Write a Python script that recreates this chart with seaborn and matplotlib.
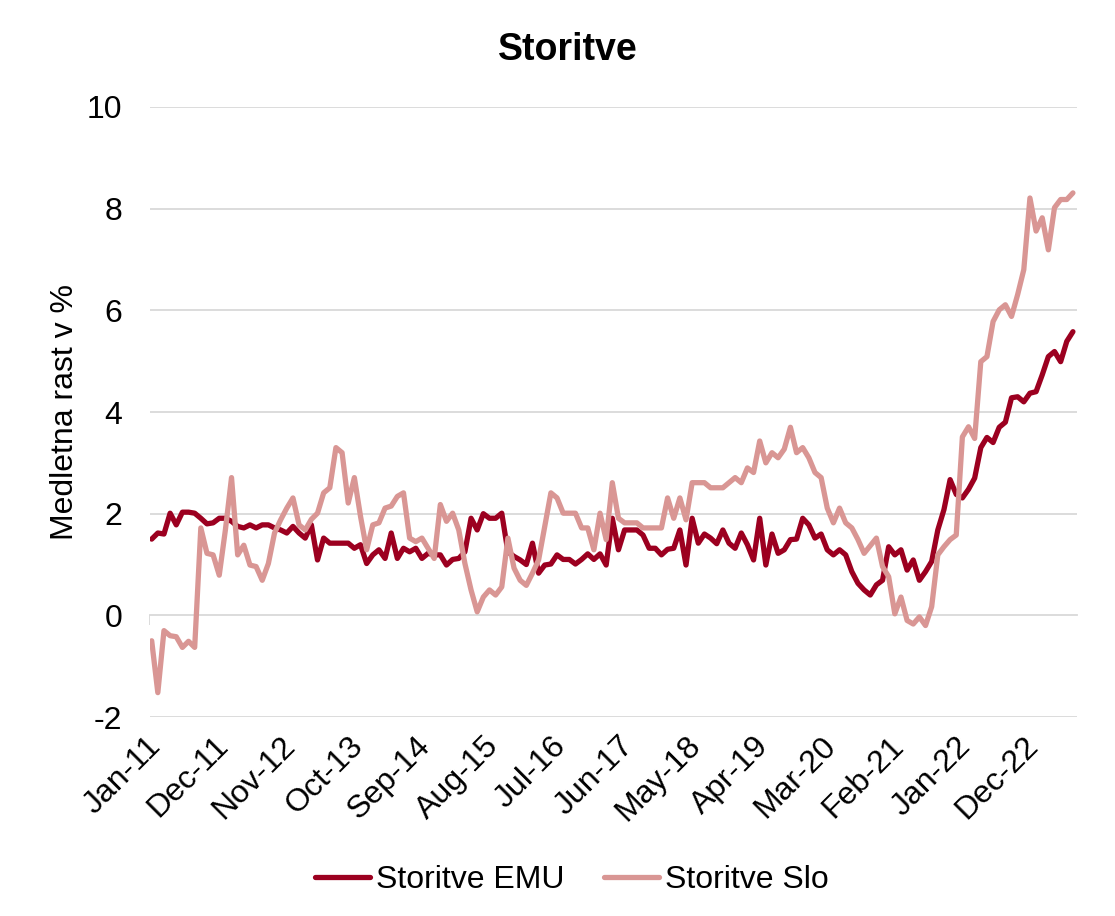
import numpy as np
import pandas as pd

import matplotlib
matplotlib.use("Agg")
import matplotlib.pyplot as plt
import matplotlib.transforms as mtransforms
import seaborn as sns


# monthly year-on-year growth, Jan-11 .. Jul-23
storitve_emu = [
    1.50, 1.62, 1.60, 2.01, 1.78, 2.03, 2.03, 2.01, 1.91, 1.80,
    1.82, 1.91, 1.91, 1.85, 1.75, 1.72, 1.78, 1.72, 1.78, 1.78,
    1.72, 1.68, 1.62, 1.75, 1.62, 1.52, 1.78, 1.09, 1.52, 1.42,
    1.42, 1.42, 1.42, 1.32, 1.39, 1.02, 1.19, 1.29, 1.12, 1.62,
    1.12, 1.32, 1.25, 1.32, 1.12, 1.22, 1.19, 1.19, 0.99, 1.10,
    1.12, 1.25, 1.91, 1.68, 2.00, 1.91, 1.91, 2.01, 1.25, 1.16,
    1.09, 1.00, 1.42, 0.83, 0.99, 1.01, 1.19, 1.10, 1.10, 1.01,
    1.10, 1.21, 1.10, 1.21, 0.99, 1.91, 1.29, 1.68, 1.68, 1.68,
    1.58, 1.32, 1.32, 1.19, 1.30, 1.32, 1.68, 0.99, 1.91, 1.42,
    1.60, 1.52, 1.41, 1.68, 1.42, 1.32, 1.62, 1.39, 1.09, 1.91,
    0.99, 1.60, 1.22, 1.29, 1.49, 1.50, 1.91, 1.78, 1.52, 1.60,
    1.29, 1.19, 1.29, 1.19, 0.86, 0.63, 0.50, 0.40, 0.60, 0.69,
    1.35, 1.19, 1.29, 0.89, 1.09, 0.69, 0.86, 1.06, 1.68, 2.08,
    2.67, 2.38, 2.31, 2.48, 2.70, 3.30, 3.50, 3.40, 3.70, 3.80,
    4.28, 4.30, 4.20, 4.37, 4.40, 4.73, 5.09, 5.19, 4.99, 5.39,
    5.58,
]

storitve_slo = [
    -0.50, -1.52, -0.30, -0.40, -0.42, -0.63, -0.51, -0.63, 1.72, 1.22,
    1.19, 0.79, 1.68, 2.71, 1.19, 1.38, 0.99, 0.96, 0.69, 1.02,
    1.62, 1.88, 2.11, 2.31, 1.78, 1.68, 1.89, 2.01, 2.41, 2.51,
    3.30, 3.20, 2.21, 2.71, 1.95, 1.29, 1.78, 1.82, 2.11, 2.15,
    2.34, 2.41, 1.52, 1.45, 1.52, 1.32, 1.12, 2.18, 1.85, 2.01,
    1.68, 1.02, 0.50, 0.07, 0.36, 0.50, 0.40, 0.56, 1.52, 0.93,
    0.69, 0.59, 0.83, 1.09, 1.75, 2.41, 2.31, 2.01, 2.01, 2.01,
    1.72, 1.72, 1.29, 2.01, 1.49, 2.61, 1.91, 1.82, 1.82, 1.82,
    1.72, 1.72, 1.72, 1.72, 2.31, 1.91, 2.31, 1.88, 2.61, 2.61,
    2.61, 2.51, 2.51, 2.51, 2.61, 2.71, 2.61, 2.90, 2.81, 3.43,
    3.00, 3.20, 3.10, 3.27, 3.70, 3.20, 3.30, 3.10, 2.81, 2.71,
    2.11, 1.82, 2.11, 1.82, 1.72, 1.49, 1.22, 1.37, 1.52, 0.96,
    0.76, 0.03, 0.36, -0.10, -0.17, -0.03, -0.20, 0.17, 1.19, 1.35,
    1.49, 1.58, 3.51, 3.71, 3.48, 4.99, 5.09, 5.78, 6.01, 6.11,
    5.88, 6.31, 6.80, 8.21, 7.56, 7.82, 7.19, 8.02, 8.18, 8.18,
    8.31,
]

tick_labels = [
    "Jan-11", "Dec-11", "Nov-12", "Oct-13", "Sep-14", "Aug-15", "Jul-16",
    "Jun-17", "May-18", "Apr-19", "Mar-20", "Feb-21", "Jan-22", "Dec-22",
]

series_names = ["Storitve EMU", "Storitve Slo"]
colors = ["#9C0020", "#D99694"]

months = np.arange(len(storitve_emu))

df = pd.DataFrame({
    "mesec": np.concatenate([months, months]),
    "rast": storitve_emu + storitve_slo,
    "serija": [series_names[0]] * len(months) + [series_names[1]] * len(months),
})

sns.set_theme(style="white")
plt.rcParams["font.family"] = ["Liberation Sans", "DejaVu Sans"]
plt.rcParams["axes.unicode_minus"] = False
plt.rcParams["text.color"] = "black"
plt.rcParams["axes.labelcolor"] = "black"

fig = plt.figure(figsize=(11.15, 9.16), dpi=100)
ax = fig.add_axes([0.1345, 0.2172, 0.8314, 0.666])

sns.lineplot(
    data=df,
    x="mesec",
    y="rast",
    hue="serija",
    palette=colors,
    linewidth=3.8,
    ax=ax,
    legend=False,
    zorder=3,
)

ax.set_xlim(-0.28, 150.66)
ax.set_ylim(-2, 10)

ax.set_yticks(range(-2, 11, 2))
ax.set_yticklabels([str(v) for v in range(-2, 11, 2)])
ax.yaxis.grid(True, color="#D9D9D9", linewidth=1.3)
ax.xaxis.grid(False)
ax.tick_params(axis="y", length=0, pad=20, labelsize=23, labelcolor="black")

tick_pos = np.arange(len(tick_labels)) * 11 - 0.28
ax.set_xticks(tick_pos)
ax.set_xticklabels(tick_labels, rotation=45, ha="right", va="center",
                   rotation_mode="anchor")
ax.tick_params(axis="x", length=0, pad=14, labelsize=23, labelcolor="black")

# nudge the slanted labels a little right and down, like the original
shift = mtransforms.ScaledTranslation(6 / 100, -5 / 100, fig.dpi_scale_trans)
for lbl in ax.get_xticklabels():
    lbl.set_transform(lbl.get_transform() + shift)

for side in ["top", "right", "left", "bottom"]:
    ax.spines[side].set_visible(False)

ax.set_xlabel("")
ax.set_ylabel("Medletna rast v %", fontsize=23, labelpad=5)

# horizontal axis line at zero with tick marks
ax2 = ax.twiny()
ax2.set_xlim(ax.get_xlim())
ax2.set_xticks(tick_pos)
ax2.set_xticklabels([])
ax2.xaxis.set_ticks_position("bottom")
ax2.spines["bottom"].set_position(("data", 0))
ax2.spines["bottom"].set_color("#D9D9D9")
ax2.spines["bottom"].set_linewidth(1.3)
for side in ["top", "right", "left"]:
    ax2.spines[side].set_visible(False)
ax2.tick_params(axis="x", direction="out", length=7, width=1.3,
                color="#D9D9D9")
ax2.set_zorder(ax.get_zorder() - 1)

fig.suptitle("Storitve", fontsize=27, fontweight="bold", x=0.509, y=0.965,
             color="black")

handles = [
    plt.Line2D([], [], color=c, linewidth=3.8, solid_capstyle="round")
    for c in colors
]
fig.legend(
    handles,
    series_names,
    loc="center",
    bbox_to_anchor=(0.513, 0.039),
    ncol=2,
    frameon=False,
    fontsize=23,
    handlelength=1.7,
    handletextpad=0.2,
    columnspacing=1.25,
)

fig.savefig("out.png", dpi=100)
plt.close(fig)
